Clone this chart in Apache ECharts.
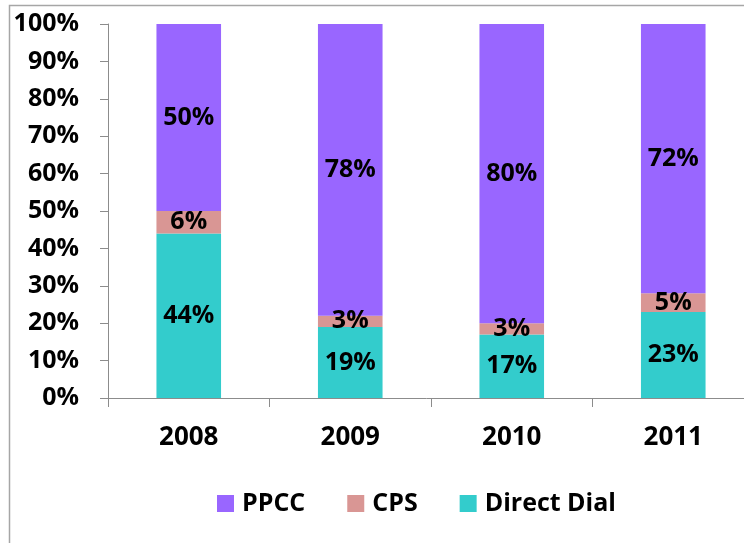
<!DOCTYPE html>
<html>
<head>
<meta charset="utf-8">
<script src="https://cdn.jsdelivr.net/npm/echarts@6/dist/echarts.min.js"></script>
<style>
html, body { margin: 0; padding: 0; background: #fff; }
#main { width: 744px; height: 543px; }
</style>
</head>
<body>
<div id="main"></div>
<script>
var years = ['2008', '2009', '2010', '2011'];
var directDial = [44, 19, 17, 23];
var cps = [6, 3, 3, 5];
var ppcc = [50, 78, 80, 72];

var font = '"Open Sans", "Liberation Sans", sans-serif';

var chart = echarts.init(document.getElementById('main'));

function pctLabel(p) {
    return p.value + '%';
}

var labelStyle = {
    show: true,
    position: 'inside',
    formatter: pctLabel,
    color: '#000',
    fontFamily: font,
    fontWeight: 'bold',
    fontSize: 25
};

var option = {
    animation: false,
    graphic: [{
        type: 'rect',
        shape: { x: 9.5, y: 5.5, width: 900, height: 700 },
        style: { fill: 'none', stroke: '#a6a6a6', lineWidth: 1.5 },
        silent: true
    }],
    grid: {
        left: 108,
        top: 24,
        width: 646,
        bottom: 145,
        outerBoundsMode: 'none'
    },
    legend: {
        left: 217,
        top: 491,
        padding: 0,
        itemWidth: 17,
        itemHeight: 17,
        itemGap: 42,
        icon: 'rect',
        data: ['PPCC', 'CPS', 'Direct Dial'],
        textStyle: {
            color: '#000',
            fontFamily: font,
            fontWeight: 'bold',
            fontSize: 25,
            padding: [0, 0, 0, 3]
        }
    },
    xAxis: {
        type: 'category',
        data: years,
        axisLine: { show: true, lineStyle: { color: '#8c8c8c', width: 1 } },
        axisTick: { show: true, alignWithLabel: false, length: 9, lineStyle: { color: '#8c8c8c' } },
        axisLabel: {
            margin: 27,
            color: '#000',
            fontFamily: font,
            fontWeight: 'bold',
            fontSize: 26
        }
    },
    yAxis: {
        type: 'value',
        min: 0,
        max: 100,
        interval: 10,
        splitLine: { show: false },
        axisLine: { show: true, lineStyle: { color: '#8c8c8c', width: 1 } },
        axisTick: { show: true, length: 8, lineStyle: { color: '#8c8c8c' } },
        axisLabel: {
            margin: 29,
            formatter: '{value}%',
            color: '#000',
            fontFamily: font,
            fontWeight: 'bold',
            fontSize: 25
        }
    },
    series: [
        {
            name: 'Direct Dial',
            type: 'bar',
            stack: 'total',
            barWidth: '40%',
            itemStyle: { color: '#33cccc' },
            label: labelStyle,
            data: directDial
        },
        {
            name: 'CPS',
            type: 'bar',
            stack: 'total',
            barWidth: '40%',
            itemStyle: { color: '#d99694' },
            label: labelStyle,
            data: cps
        },
        {
            name: 'PPCC',
            type: 'bar',
            stack: 'total',
            barWidth: '40%',
            itemStyle: { color: '#9966ff' },
            label: labelStyle,
            data: ppcc
        }
    ]
};

chart.setOption(option);

window.onresize = function(){
    chart.resize();
};
</script>
</body>
</html>
